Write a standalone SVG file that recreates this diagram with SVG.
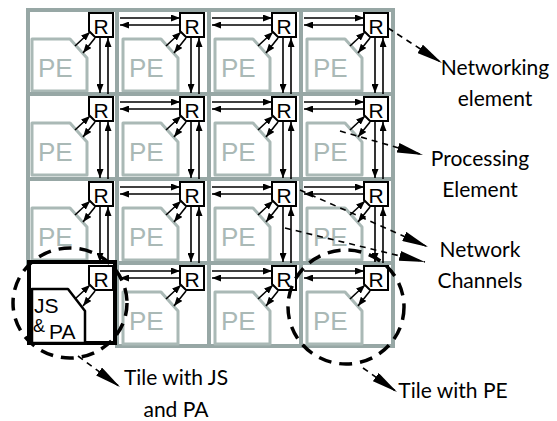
<svg xmlns="http://www.w3.org/2000/svg" width="557" height="421" viewBox="0 0 557 421">
<defs>
<style>
.grid{fill:none;stroke:#97a7a5;stroke-width:4}
.pe{fill:#fff;stroke:#aab9b6;stroke-width:3;stroke-linejoin:round}
.pet{font-family:"Liberation Sans",Arial,sans-serif;font-size:26px;fill:#aab9b6}
.r{fill:#fff;stroke:#000;stroke-width:2}
.rt{font-family:"Liberation Sans",Arial,sans-serif;font-size:21px;text-anchor:middle;fill:#000}
.a{fill:none;stroke:#000;stroke-width:1.6;marker-end:url(#ah)}
.ld{fill:none;stroke:#000;stroke-width:1.6;stroke-dasharray:6 5;marker-end:url(#lh)}
.el{fill:none;stroke:#000;stroke-width:3.5;stroke-dasharray:13 8}
.lbl{font-family:Lato,"Liberation Sans",sans-serif;font-size:21px;text-anchor:middle;fill:#000}
.js{font-family:"Liberation Sans",Arial,sans-serif;fill:#000}
</style>
<marker id="ah" markerUnits="userSpaceOnUse" markerWidth="9" markerHeight="7" refX="9" refY="3.5" orient="auto"><path d="M0,0L9,3.5L0,7Z" fill="#000"/></marker>
<marker id="lh" markerUnits="userSpaceOnUse" markerWidth="26" markerHeight="10" refX="26" refY="5" orient="auto"><path d="M0,0L26,5L0,10Z" fill="#000"/></marker>
</defs>
<rect width="557" height="421" fill="#fff"/>
<g id="tiles">
<g id="tile-0-0" transform="translate(26,10)"><rect class="grid" x="2" y="0" width="89" height="84"/><path class="pe" d="M6,29H44L61,48V81H6Z"/><text class="pet" x="12" y="67">PE</text><path class="r" d="M63,3H87V27H69L63,21Z"/><text class="rt" x="75" y="24">R</text></g>
<g id="tile-0-1" transform="translate(117,10)"><rect class="grid" x="0" y="0" width="92" height="84"/><path class="pe" d="M6,29H44L61,48V81H6Z"/><text class="pet" x="12" y="67">PE</text><path class="r" d="M63,3H87V27H69L63,21Z"/><text class="rt" x="75" y="24">R</text></g>
<g id="tile-0-2" transform="translate(209,10)"><rect class="grid" x="0" y="0" width="92" height="84"/><path class="pe" d="M6,29H44L61,48V81H6Z"/><text class="pet" x="12" y="67">PE</text><path class="r" d="M63,3H87V27H69L63,21Z"/><text class="rt" x="75" y="24">R</text></g>
<g id="tile-0-3" transform="translate(301,10)"><rect class="grid" x="0" y="0" width="92" height="84"/><path class="pe" d="M6,29H44L61,48V81H6Z"/><text class="pet" x="12" y="67">PE</text><path class="r" d="M63,3H87V27H69L63,21Z"/><text class="rt" x="75" y="24">R</text></g>
<g id="tile-1-0" transform="translate(26,94)"><rect class="grid" x="2" y="0" width="89" height="85"/><path class="pe" d="M6,29H44L61,48V81H6Z"/><text class="pet" x="12" y="67">PE</text><path class="r" d="M63,3H87V27H69L63,21Z"/><text class="rt" x="75" y="24">R</text></g>
<g id="tile-1-1" transform="translate(117,94)"><rect class="grid" x="0" y="0" width="92" height="85"/><path class="pe" d="M6,29H44L61,48V81H6Z"/><text class="pet" x="12" y="67">PE</text><path class="r" d="M63,3H87V27H69L63,21Z"/><text class="rt" x="75" y="24">R</text></g>
<g id="tile-1-2" transform="translate(209,94)"><rect class="grid" x="0" y="0" width="92" height="85"/><path class="pe" d="M6,29H44L61,48V81H6Z"/><text class="pet" x="12" y="67">PE</text><path class="r" d="M63,3H87V27H69L63,21Z"/><text class="rt" x="75" y="24">R</text></g>
<g id="tile-1-3" transform="translate(301,94)"><rect class="grid" x="0" y="0" width="92" height="85"/><path class="pe" d="M6,29H44L61,48V81H6Z"/><text class="pet" x="12" y="67">PE</text><path class="r" d="M63,3H87V27H69L63,21Z"/><text class="rt" x="75" y="24">R</text></g>
<g id="tile-2-0" transform="translate(26,179)"><rect class="grid" x="2" y="0" width="89" height="84"/><path class="pe" d="M6,29H44L61,48V81H6Z"/><text class="pet" x="12" y="67">PE</text><path class="r" d="M63,3H87V27H69L63,21Z"/><text class="rt" x="75" y="24">R</text></g>
<g id="tile-2-1" transform="translate(117,179)"><rect class="grid" x="0" y="0" width="92" height="84"/><path class="pe" d="M6,29H44L61,48V81H6Z"/><text class="pet" x="12" y="67">PE</text><path class="r" d="M63,3H87V27H69L63,21Z"/><text class="rt" x="75" y="24">R</text></g>
<g id="tile-2-2" transform="translate(209,179)"><rect class="grid" x="0" y="0" width="92" height="84"/><path class="pe" d="M6,29H44L61,48V81H6Z"/><text class="pet" x="12" y="67">PE</text><path class="r" d="M63,3H87V27H69L63,21Z"/><text class="rt" x="75" y="24">R</text></g>
<g id="tile-2-3" transform="translate(301,179)"><rect class="grid" x="0" y="0" width="92" height="84"/><path class="pe" d="M6,29H44L61,48V81H6Z"/><text class="pet" x="12" y="67">PE</text><path class="r" d="M63,3H87V27H69L63,21Z"/><text class="rt" x="75" y="24">R</text></g>
<g id="tile-3-1" transform="translate(117,263)"><rect class="grid" x="0" y="0" width="92" height="83"/><path class="pe" d="M6,29H44L61,48V81H6Z"/><text class="pet" x="12" y="67">PE</text><path class="r" d="M63,3H87V27H69L63,21Z"/><text class="rt" x="75" y="24">R</text></g>
<g id="tile-3-2" transform="translate(209,263)"><rect class="grid" x="0" y="0" width="92" height="83"/><path class="pe" d="M6,29H44L61,48V81H6Z"/><text class="pet" x="12" y="67">PE</text><path class="r" d="M63,3H87V27H69L63,21Z"/><text class="rt" x="75" y="24">R</text></g>
<g id="tile-3-3" transform="translate(301,263)"><rect class="grid" x="0" y="0" width="92" height="83"/><path class="pe" d="M6,29H44L61,48V81H6Z"/><text class="pet" x="12" y="67">PE</text><path class="r" d="M63,3H87V27H69L63,21Z"/><text class="rt" x="75" y="24">R</text></g>
<g id="tile-3-0-js-pa" transform="translate(26,263)"><rect x="3" y="-1" width="86" height="81" fill="#fff" stroke="#000" stroke-width="4"/><path d="M6,26H42L59,48V80H6Z" fill="#fff" stroke="#000" stroke-width="2.5" stroke-linejoin="round"/><text class="js" x="8" y="50" font-size="21">JS</text><text class="js" x="7" y="69" font-size="18">&amp;</text><text class="js" x="23" y="76" font-size="21">PA</text><path class="r" d="M63,3H87V27H69L63,21Z"/><text class="rt" x="75" y="24">R</text></g>
</g>
<g id="connectors">
<path class="a" d="M120,18H180"/><path class="a" d="M180,25H120"/>
<path class="a" d="M212,18H272"/><path class="a" d="M272,25H212"/>
<path class="a" d="M304,18H364"/><path class="a" d="M364,25H304"/>
<path class="a" d="M120,102H180"/><path class="a" d="M180,109H120"/>
<path class="a" d="M212,102H272"/><path class="a" d="M272,109H212"/>
<path class="a" d="M304,102H364"/><path class="a" d="M364,109H304"/>
<path class="a" d="M120,187H180"/><path class="a" d="M180,194H120"/>
<path class="a" d="M212,187H272"/><path class="a" d="M272,194H212"/>
<path class="a" d="M304,187H364"/><path class="a" d="M364,194H304"/>
<path class="a" d="M120,271H180"/><path class="a" d="M180,278H120"/>
<path class="a" d="M212,271H272"/><path class="a" d="M272,278H212"/>
<path class="a" d="M304,271H364"/><path class="a" d="M364,278H304"/>
<path class="a" d="M100,37V93"/><path class="a" d="M108,94V38"/>
<path class="a" d="M191,37V93"/><path class="a" d="M199,94V38"/>
<path class="a" d="M283,37V93"/><path class="a" d="M291,94V38"/>
<path class="a" d="M375,37V93"/><path class="a" d="M383,94V38"/>
<path class="a" d="M100,121V178"/><path class="a" d="M108,179V122"/>
<path class="a" d="M191,121V178"/><path class="a" d="M199,179V122"/>
<path class="a" d="M283,121V178"/><path class="a" d="M291,179V122"/>
<path class="a" d="M375,121V178"/><path class="a" d="M383,179V122"/>
<path class="a" d="M100,206V262"/><path class="a" d="M108,263V207"/>
<path class="a" d="M191,206V262"/><path class="a" d="M199,263V207"/>
<path class="a" d="M283,206V262"/><path class="a" d="M291,263V207"/>
<path class="a" d="M375,206V262"/><path class="a" d="M383,263V207"/>
<path class="a" d="M75,46L90,32"/><path class="a" d="M95,38L83,53"/>
<path class="a" d="M166,46L181,32"/><path class="a" d="M186,38L174,53"/>
<path class="a" d="M258,46L273,32"/><path class="a" d="M278,38L266,53"/>
<path class="a" d="M350,46L365,32"/><path class="a" d="M370,38L358,53"/>
<path class="a" d="M75,130L90,116"/><path class="a" d="M95,122L83,137"/>
<path class="a" d="M166,130L181,116"/><path class="a" d="M186,122L174,137"/>
<path class="a" d="M258,130L273,116"/><path class="a" d="M278,122L266,137"/>
<path class="a" d="M350,130L365,116"/><path class="a" d="M370,122L358,137"/>
<path class="a" d="M75,215L90,201"/><path class="a" d="M95,207L83,222"/>
<path class="a" d="M166,215L181,201"/><path class="a" d="M186,207L174,222"/>
<path class="a" d="M258,215L273,201"/><path class="a" d="M278,207L266,222"/>
<path class="a" d="M350,215L365,201"/><path class="a" d="M370,207L358,222"/>
<path class="a" d="M75,299L90,285"/><path class="a" d="M95,291L83,306"/>
<path class="a" d="M166,299L181,285"/><path class="a" d="M186,291L174,306"/>
<path class="a" d="M258,299L273,285"/><path class="a" d="M278,291L266,306"/>
<path class="a" d="M350,299L365,285"/><path class="a" d="M370,291L358,306"/>
</g>
<g id="callouts">
<ellipse class="el" cx="70" cy="303" rx="57" ry="55"/>
<ellipse class="el" cx="346" cy="307" rx="58" ry="57"/>
<path class="ld" d="M388,28L442,63"/>
<path class="ld" d="M340,131L423,155"/>
<path class="ld" d="M300,190L428,247"/>
<path class="ld" d="M285,228L425,262"/>
<path class="ld" d="M78,356L120,387"/>
<path class="ld" d="M363,368L397,392"/>
</g>
<g id="labels">
<text class="lbl" x="495" y="75">Networking</text>
<text class="lbl" x="495" y="106">element</text>
<text class="lbl" x="480" y="166">Processing</text>
<text class="lbl" x="480" y="197">Element</text>
<text class="lbl" x="480" y="257">Network</text>
<text class="lbl" x="480" y="288">Channels</text>
<text class="lbl" x="176" y="385">Tile with JS</text>
<text class="lbl" x="176" y="417">and PA</text>
<text class="lbl" x="453" y="398">Tile with PE</text>
</g>
</svg>
